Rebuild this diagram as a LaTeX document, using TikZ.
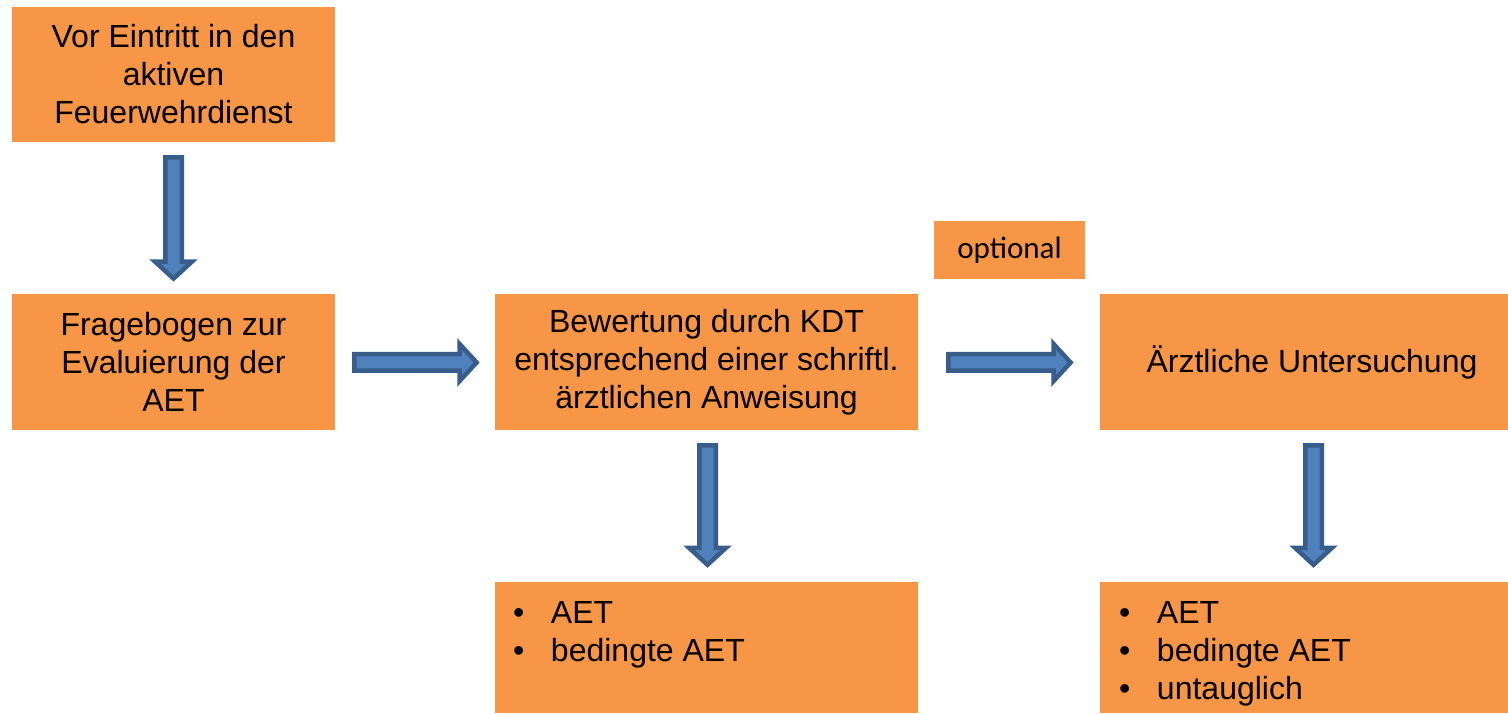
\documentclass[tikz,border=0pt]{standalone}
\usepackage{fontspec}
\setmainfont{Liberation Sans}
\newfontfamily\calibrifont{Carlito}
\usetikzlibrary{calc}
\definecolor{boxorange}{HTML}{F79646}
\definecolor{arrowfill}{HTML}{4F81BD}
\definecolor{arrowline}{HTML}{385D8A}
\tikzset{
  orangebox/.style={fill=boxorange, draw=none, inner sep=0pt, align=center,
    font=\fontsize{32}{38}\selectfont},
  itemtext/.style={anchor=base west, inner sep=0pt, font=\fontsize{32}{38}\selectfont},
  blockarrow/.style={fill=arrowfill, draw=arrowline, line width=4.5pt, line join=miter},
}
\newcommand\myarrowdown[2]{%
  \draw[blockarrow] let \p1=#1, \p2=#2 in
  (\x1-8.25pt,\y1) -- (\x1+8.25pt,\y1) -- (\x1+8.25pt,\y2+17pt) -- (\x1+18.5pt,\y2+17pt)
  -- (\x1,\y2) -- (\x1-18.5pt,\y2+17pt) -- (\x1-8.25pt,\y2+17pt) -- cycle;}
\newcommand\myarrowright[2]{%
  \draw[blockarrow] let \p1=#1, \p2=#2 in
  (\x1,\y1-8.25pt) -- (\x2-17pt,\y1-8.25pt) -- (\x2-17pt,\y1-18.5pt) -- (\x2,\y1)
  -- (\x2-17pt,\y1+18.5pt) -- (\x2-17pt,\y1+8.25pt) -- (\x1,\y1+8.25pt) -- cycle;}
\begin{document}
\begin{tikzpicture}[x=1pt,y=1pt]
\useasboundingbox (0,0) rectangle (1508,714);
% boxes
\node[orangebox, minimum width=323pt, minimum height=135pt] (b1) at (173.5,639.5)
  {Vor Eintritt in den\\aktiven\\Feuerwehrdienst};
\node[orangebox, minimum width=323pt, minimum height=136pt] (b2) at (173.5,352)
  {Fragebogen zur\\Evaluierung der\\AET};
\node[orangebox, minimum width=423pt, minimum height=136pt] (b3) at (706.5,352)
  {Bewertung durch KDT\\entsprechend einer schriftl.\\ärztlichen Anweisung};
\node[orangebox, minimum width=151pt, minimum height=58pt,
  font=\calibrifont\fontsize{31}{36}\selectfont] (opt) at (1009.5,464) {optional};
\node[orangebox, minimum width=408pt, minimum height=136pt] (b4) at (1304,352)
  {\hspace*{16pt}Ärztliche Untersuchung};
\node[orangebox, minimum width=423pt, minimum height=131pt] (b5) at (706.5,66.5) {};
\node[orangebox, minimum width=408pt, minimum height=131pt] (b6) at (1304,66.5) {};
% list items
\node[itemtext] (b5i1) at ($(b5.north west)+(18,-41.5)$) {\makebox[38pt][l]{•}AET};
\node[itemtext] (b5i2) at ($(b5.north west)+(18,-79.5)$) {\makebox[38pt][l]{•}bedingte AET};
\node[itemtext] (b6i1) at ($(b6.north west)+(19,-41.5)$) {\makebox[38pt][l]{•}AET};
\node[itemtext] (b6i2) at ($(b6.north west)+(19,-79.5)$) {\makebox[38pt][l]{•}bedingte AET};
\node[itemtext] (b6i3) at ($(b6.north west)+(19,-117.5)$) {\makebox[38pt][l]{•}untauglich};
% arrow endpoints
\coordinate (d1s) at ($(b1.south)+(0,-15.25)$);
\coordinate (d1t) at ($(b2.north)+(0,15.2)$);
\coordinate (d2s) at ($(b3.south)+(1,-15.25)$);
\coordinate (d2t) at ($(b5.north)+(1,17)$);
\coordinate (d3s) at ($(b4.south)+(9.5,-15.25)$);
\coordinate (d3t) at ($(b6.north)+(9.5,17)$);
\coordinate (r1s) at ($(b2.east)+(19.25,-0.5)$);
\coordinate (r1t) at ($(b3.west)+(-18.2,-0.5)$);
\coordinate (r2s) at ($(b3.east)+(30.25,-0.5)$);
\coordinate (r2t) at ($(b4.west)+(-29.2,-0.5)$);
% arrows
\myarrowdown{(d1s)}{(d1t)}
\myarrowdown{(d2s)}{(d2t)}
\myarrowdown{(d3s)}{(d3t)}
\myarrowright{(r1s)}{(r1t)}
\myarrowright{(r2s)}{(r2t)}
\end{tikzpicture}
\end{document}
